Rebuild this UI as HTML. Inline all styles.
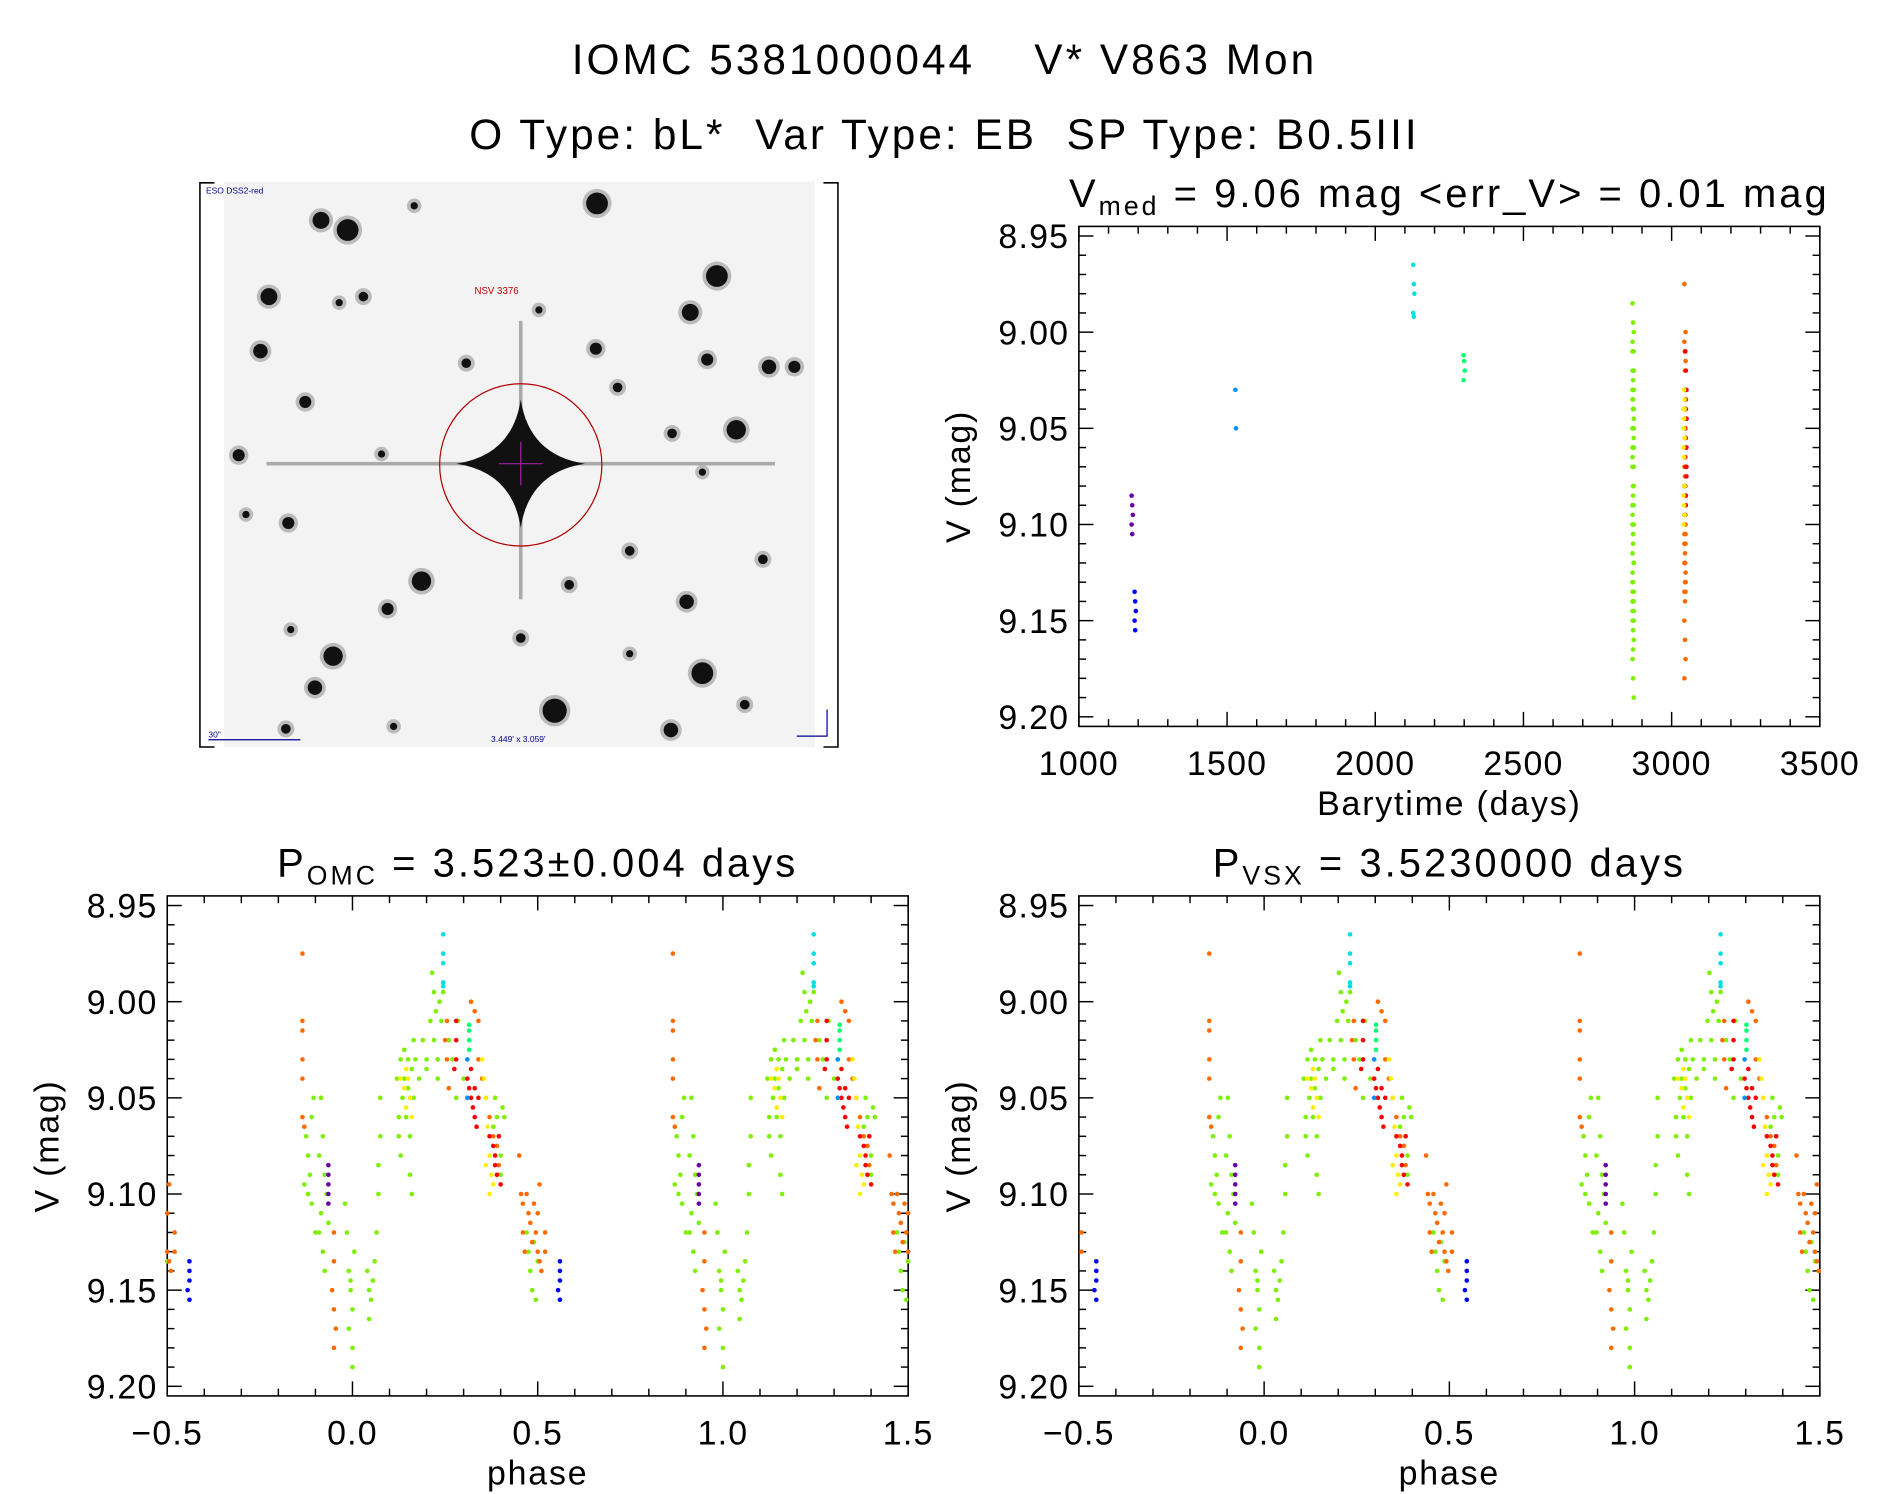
<!DOCTYPE html>
<html><head><meta charset="utf-8"><style>
html,body{margin:0;padding:0;background:#fff;}
svg{display:block;font-family:"Liberation Sans",sans-serif;}
</style></head><body>
<svg id="fig" xmlns="http://www.w3.org/2000/svg" width="1889" height="1494" viewBox="0 0 1560 1234">
<text x="780" y="61" font-size="35" letter-spacing="2.5" text-anchor="middle" fill="#000" xml:space="preserve">IOMC 5381000044    V* V863 Mon</text>
<text x="780" y="123" font-size="35" letter-spacing="2.5" text-anchor="middle" fill="#000" xml:space="preserve">O Type: bL*  Var Type: EB  SP Type: B0.5III</text>
<g id="img"></g>
<g id="p1"></g>
<g id="p2"></g>
<g id="p3"></g>
</svg>
<script>
// ---- data ----
const greenPts = [[-0.125,9.07],[-0.12,9.08],[-0.115,9.09],[-0.12,9.10],[-0.11,9.06],[-0.105,9.05],[-0.13,9.095],[-0.11,9.105],[-0.1,9.12],[-0.085,9.05],[-0.08,9.07],[-0.09,9.08],[-0.075,9.09],[-0.085,9.11],[-0.09,9.12],[-0.08,9.13],[-0.075,9.14],[-0.07,9.10],[-0.065,9.115],[-0.02,9.105],[-0.015,9.12],[-0.01,9.14],[-0.005,9.15],[0,9.16],[-0.01,9.17],[0,9.18],[0,9.19],[-0.005,9.145],[0.005,9.13],[0.04,9.14],[0.045,9.15],[0.05,9.155],[0.055,9.145],[0.06,9.135],[0.045,9.165],[0.065,9.12],[0.07,9.10],[0.07,9.085],[0.075,9.07],[0.075,9.05],[0.12,9.04],[0.125,9.06],[0.125,9.07],[0.13,9.08],[0.13,9.03],[0.135,9.05],[0.14,9.025],[0.14,9.04],[0.145,9.06],[0.15,9.03],[0.15,9.045],[0.155,9.07],[0.155,9.09],[0.16,9.10],[0.16,9.035],[0.165,9.05],[0.165,9.02],[0.17,9.03],[0.18,9.04],[0.19,9.02],[0.2,9.03],[0.2,9.035],[0.21,9.01],[0.215,8.985],[0.22,8.995],[0.22,9.02],[0.225,9.005],[0.23,9.03],[0.235,9.0],[0.24,9.01],[0.245,8.995],[0.23,9.04],[0.26,9.02],[0.27,9.03],[0.28,9.05],[0.285,9.01],[0.3,9.04],[0.31,9.03],[0.38,9.065],[0.385,9.05],[0.39,9.06],[0.395,9.07],[0.4,9.08],[0.405,9.055],[0.41,9.06],[0.4,9.09],[0.47,9.12],[0.475,9.13],[0.48,9.14],[0.485,9.15],[0.49,9.125],[0.495,9.155],[0.5,9.135]];
const orangePts = [[-0.135,8.975],[-0.135,9.01],[-0.135,9.015],[-0.135,9.03],[-0.135,9.04],[-0.135,9.06],[-0.13,9.065],[-0.05,9.12],[-0.05,9.135],[-0.055,9.15],[-0.05,9.16],[-0.045,9.17],[-0.05,9.18],[0.25,9.02],[0.255,9.03],[0.26,9.045],[0.255,9.01],[0.32,9.0],[0.33,9.005],[0.34,9.01],[0.34,9.03],[0.35,9.04],[0.36,9.05],[0.37,9.06],[0.38,9.07],[0.39,9.075],[0.395,9.085],[0.45,9.08],[0.455,9.1],[0.46,9.105],[0.46,9.12],[0.465,9.13],[0.47,9.1],[0.475,9.11],[0.48,9.115],[0.485,9.125],[0.49,9.105],[0.495,9.12],[0.5,9.13],[0.505,9.135],[0.51,9.14],[0.5,9.11],[0.505,9.095],[0.52,9.12],[0.52,9.13]];
const redPts = [[0.28,9.01],[0.28,9.02],[0.28,9.03],[0.275,9.035],[0.31,9.04],[0.315,9.045],[0.32,9.05],[0.325,9.055],[0.33,9.06],[0.335,9.065],[0.32,9.035],[0.33,9.045],[0.34,9.05],[0.37,9.07],[0.38,9.075],[0.385,9.08],[0.39,9.09],[0.395,9.07],[0.4,9.095],[0.385,9.085]];
const yellowPts = [[0.13,9.04],[0.14,9.045],[0.145,9.055],[0.15,9.04],[0.155,9.05],[0.145,9.035],[0.16,9.06],[0.35,9.03],[0.355,9.04],[0.36,9.05],[0.365,9.065],[0.37,9.08],[0.36,9.085],[0.375,9.09],[0.38,9.095],[0.37,9.1]];
const cyanPts = [[0.245,8.965],[0.245,8.975],[0.245,8.98],[0.245,8.99],[0.245,8.992]];
const springPts = [[0.315,9.012],[0.315,9.015],[0.315,9.02],[0.315,9.025]];
const lightbluePts = [[0.31,9.03],[0.31,9.05]];
const purplePts = [[-0.065,9.085],[-0.065,9.09],[-0.065,9.095],[-0.065,9.1],[-0.065,9.105]];
const bluePts = [[0.56,9.135],[0.56,9.14],[0.56,9.145],[0.555,9.15],[0.56,9.155]];
const groupColors = ['#7cf000','#ff6a00','#ff0000','#ffee00','#00e0e0','#00ff70','#0090ff','#6a00a0','#0000ff'];
const groupTimes = [2870,3045,3048,3042,2130,2300,1530,1180,1190];
const phaseShifts = [0,-0.013];
const xTicksTime = [1000,1500,2000,2500,3000,3500];
const xTicksPhase = [-0.5,0,0.5,1,1.5];
const yTicks = [8.95,9.00,9.05,9.10,9.15,9.20];

const NS='http://www.w3.org/2000/svg';
function mk(tag,attrs,parent){const e=document.createElementNS(NS,tag);for(const k in attrs)e.setAttribute(k,attrs[k]);parent.appendChild(e);return e;}
const groups=[greenPts,orangePts,redPts,yellowPts,cyanPts,springPts,lightbluePts,purplePts,bluePts];

function axes(g,L,R,T,B,x0,x1,xMinor,xTicks,xFmt,title,xlabel){
  const sx=v=>L+(v-x0)/(x1-x0)*(R-L);
  const y0=8.945,y1=9.205;
  const sy=v=>T+(v-y0)/(y1-y0)*(B-T);
  const f=mk('rect',{x:L,y:T,width:R-L,height:B-T,fill:'none',stroke:'#000','stroke-width':1.3},g);
  
  
  for(let v=x0;v<=x1+1e-9;v+=xMinor){
    const isMaj=xTicks.some(t=>Math.abs(t-v)<1e-6);const len=isMaj?12:6;const x=sx(v);
    mk('line',{x1:x,y1:B,x2:x,y2:B-len,stroke:'#000','stroke-width':1.2},g);
    mk('line',{x1:x,y1:T,x2:x,y2:T+len,stroke:'#000','stroke-width':1.2},g);
  }
  xTicks.forEach(t=>{const tx=mk('text',{x:sx(t),y:B+40,'font-size':28,'letter-spacing':1,'text-anchor':'middle'},g);tx.textContent=xFmt(t);
    
    });
  for(let v=8.95;v<=9.2001;v+=0.01){
    const isMaj=yTicks.some(t=>Math.abs(t-v)<1e-6);const len=isMaj?12:6;const y=sy(v);
    mk('line',{x1:L,y1:y,x2:L+len,y2:y,stroke:'#000','stroke-width':1.2},g);
    mk('line',{x1:R,y1:y,x2:R-len,y2:y,stroke:'#000','stroke-width':1.2},g);
  }
  yTicks.forEach(t=>{const tx=mk('text',{x:L-8,y:sy(t)+10,'font-size':28,'letter-spacing':1,'text-anchor':'end'},g);tx.textContent=t.toFixed(2);
    
    });
  const yl=mk('text',{x:0,y:0,'font-size':28,'letter-spacing':1.5,'text-anchor':'middle',transform:`translate(${L-90},${(T+B)/2}) rotate(-90)`},g);yl.textContent='V (mag)';
  
  
  const xl=mk('text',{x:(L+R)/2,y:B+73,'font-size':28,'letter-spacing':1.5,'text-anchor':'middle'},g);xl.textContent=xlabel;
  
  
  const tt=mk('text',{x:(L+R)/2,y:T-16,'font-size':33,'letter-spacing':2.5,'text-anchor':'middle'},g);
  tt.setAttribute('xml:space','preserve');
  tt.innerHTML=title;
  
  
  return {sx,sy};
}
function dot(g,x,y,c){const d=mk('circle',{cx:x,cy:y,r:1.9,fill:c},g);
  
  }

// time series
(function(){const g=document.getElementById('p1');
  const {sx,sy}=axes(g,891,1503,187,600,1000,3500,100,xTicksTime,t=>String(t),'V<tspan baseline-shift="-30%" font-size="22">med</tspan>  =  9.06  mag  &lt;err_V&gt;  =  0.01  mag','Barytime (days)');
  groups.forEach((pts,i)=>pts.forEach((p,j)=>dot(g,sx(groupTimes[i]+((j%3)-1)*2),sy(p[1]),groupColors[i])));
})();
function phasePlot(id,L,R,shift,title){const g=document.getElementById(id);
  const {sx,sy}=axes(g,L,R,740,1153,-0.5,1.5,0.1,xTicksPhase,t=>(t<0?'\u22120.5':t.toFixed(1)),title,'phase');
  groups.forEach((pts,i)=>pts.forEach(p=>{let b=((p[0]+shift)%1+1)%1;
    for(const k of [-1,0,1]){const ph=b+k;if(ph>=-0.5&&ph<=1.5)dot(g,sx(ph),sy(p[1]),groupColors[i]);}}));
}
phasePlot('p2',138,750,phaseShifts[0],'P<tspan baseline-shift="-30%" font-size="22">OMC</tspan>  =  3.523±0.004  days');
phasePlot('p3',891,1503,phaseShifts[1],'P<tspan baseline-shift="-30%" font-size="22">VSX</tspan>  =  3.5230000  days');

// sky image
(function(){const g=document.getElementById('img');
  mk('rect',{x:185,y:150,width:488,height:467,fill:'#f3f3f3'},g);
  mk('path',{d:'M177 151 H165 V617 H177 M680 151 H692 V617 H680',fill:'none',stroke:'#000','stroke-width':1.3},g);
  const stars=[[265,182,7],[287,190,9],[493,168,9],[222,245,7],[592,228,9],[570,258,7],[215,290,6],[608,355,8],[584,297,5],[635,303,6],[656,303,5],[252,332,5],[492,288,5],[348,480,8],[275,542,8],[260,568,6],[580,556,9],[458,587,10],[567,497,6],[554,603,6],[197,376,5],[238,432,5],[320,503,5],[630,462,4],[300,245,4],[385,300,4],[510,320,4],[555,358,4],[430,527,4],[470,483,4],[315,375,3],[240,520,3],[520,455,4],[580,390,3],[280,250,3],[342,170,3],[615,582,4],[236,602,4],[203,425,3],[445,256,3],[520,540,3],[325,600,3]];
  stars.forEach(s=>{mk('circle',{cx:s[0],cy:s[1],r:s[2]+3,fill:'#bbb'},g);mk('circle',{cx:s[0],cy:s[1],r:s[2],fill:'#111'},g);});
  mk('line',{x1:220,y1:383,x2:640,y2:383,stroke:'#aaa','stroke-width':3},g);
  mk('line',{x1:430,y1:265,x2:430,y2:495,stroke:'#aaa','stroke-width':3},g);
  mk('path',{d:'M430 330 Q437 376 483 383 Q437 390 430 436 Q423 390 377 383 Q423 376 430 330Z',fill:'#111'},g);
  mk('circle',{cx:430,cy:383,r:20,fill:'#111'},g);
  mk('line',{x1:412,y1:383,x2:448,y2:383,stroke:'#a020a0','stroke-width':1},g);
  mk('line',{x1:430,y1:365,x2:430,y2:401,stroke:'#a020a0','stroke-width':1},g);
  mk('circle',{cx:430,cy:384,r:67,fill:'none',stroke:'#b00000','stroke-width':1},g);
  const t1=mk('text',{x:410,y:243,'font-size':8,fill:'#c00000','text-anchor':'middle'},g);t1.textContent='NSV 3376';
  const t2=mk('text',{x:170,y:160,'font-size':7,fill:'#000090'},g);t2.textContent='ESO DSS2-red';
  const t3=mk('text',{x:428,y:613,'font-size':7,fill:'#000090','text-anchor':'middle'},g);t3.textContent="3.449' x 3.059'";
  const t4=mk('text',{x:172,y:609,'font-size':7,fill:'#000090'},g);t4.textContent='30"';
  mk('line',{x1:172,y1:611,x2:248,y2:611,stroke:'#000090','stroke-width':1},g);
  mk('path',{d:'M683 586 V608 H658',fill:'none',stroke:'#000090','stroke-width':1},g);
})();
</script>
</body></html>
